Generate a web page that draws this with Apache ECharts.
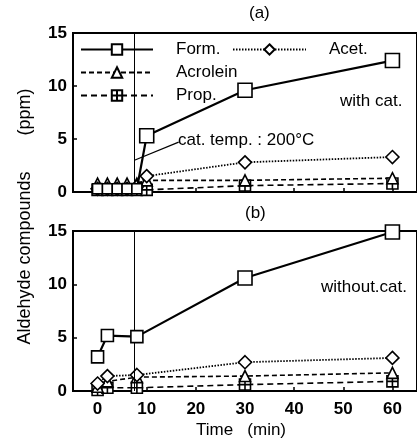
<!DOCTYPE html>
<html>
<head>
<meta charset="utf-8">
<script src="https://cdn.jsdelivr.net/npm/echarts@6/dist/echarts.min.js"></script>
<style>
  html, body { margin: 0; padding: 0; background: #fff; }
  #chart { width: 417px; height: 448px; }
</style>
</head>
<body>
<div id="chart"></div>
<script>
// time ticks (min)
const timeTicks = [0, 10, 20, 30, 40, 50, 60];
const yTicks = [0, 5, 10, 15];
const catOnTime = 7.5;

// (a) with catalyst  [time, ppm]
const formA     = [[0, 0.3], [2, 0.3], [4, 0.3], [6, 0.3], [8, 0.3], [10, 5.3], [30, 9.6], [60, 12.4]];
const acetA     = [[0, 0.3], [2, 0.3], [4, 0.3], [6, 0.3], [8, 0.5], [10, 1.5], [30, 2.8], [60, 3.3]];
const acroleinA = [[0, 0.8], [2, 0.8], [4, 0.8], [6, 0.8], [8, 0.8], [10, 1.1], [30, 1.1], [60, 1.3]];
const propA     = [[0, 0.2], [2, 0.2], [4, 0.2], [6, 0.2], [8, 0.2], [10, 0.2], [30, 0.6], [60, 0.8]];

// (b) without catalyst
const formB     = [[0, 3.2], [2, 5.2], [8, 5.1], [30, 10.6], [60, 14.9]];
const acetB     = [[0, 0.7], [2, 1.4], [8, 1.5], [30, 2.7], [60, 3.1]];
const acroleinB = [[0, 0.4], [2, 0.9], [8, 1.3], [30, 1.4], [60, 1.7]];
const propB     = [[0, 0.1], [2, 0.3], [8, 0.3], [30, 0.6], [60, 0.9]];

// pointer of the "cat. temp." note
const notePointer = [[catOnTime, 3.0], [16.5, 4.7]];

const FONT = "'Liberation Sans', Arial, sans-serif";
const plusRect = "path://M0,0H10V10H0Z M5,0V10 M0,5H10";

const styles = {
  "Form.":    { symbol: "rect",     line: { type: "solid",  width: 2.2 }, size: 14 },
  "Acet.":    { symbol: "diamond",  line: { type: [1.5, 1.5], width: 1.8 }, size: 13 },
  "Acrolein": { symbol: "triangle", line: { type: [5, 3],   width: 1.6 }, size: 11 },
  "Prop.":    { symbol: plusRect,   line: { type: [6, 4],   width: 1.6 }, size: 11 },
};

function makeSeries(name, data, panel) {
  const s = styles[name];
  return {
    name,
    type: "line",
    xAxisIndex: panel,
    yAxisIndex: panel,
    data,
    symbol: s.symbol,
    // early formaldehyde points are drawn smaller
    symbolSize: (v) => (name === "Form." && v[0] < 9 ? (panel === 0 ? 10 : 12) : s.size),
    showAllSymbol: true,
    lineStyle: { color: "#000", type: s.line.type, width: s.line.width },
    itemStyle: { color: "#fff", borderColor: "#000", borderWidth: 1.6 },
    emphasis: { disabled: true },
    z: name === "Form." ? 5 : 3,
  };
}

function vLine(panel) {
  return {
    type: "line",
    xAxisIndex: panel,
    yAxisIndex: panel,
    data: [],
    silent: true,
    markLine: {
      symbol: "none",
      silent: true,
      label: { show: false },
      lineStyle: { color: "#000", type: "solid", width: 1 },
      data: [{ xAxis: catOnTime }],
    },
  };
}

const chart = echarts.init(document.getElementById("chart"));

const xAxisBase = {
  type: "value",
  min: -5,
  max: 65,
  axisLine: { onZero: false, lineStyle: { color: "#000", width: 2 } },
  axisTick: { inside: true, length: 4, customValues: timeTicks, lineStyle: { color: "#000", width: 1.5 } },
  splitLine: { show: false },
};
const yAxisBase = {
  type: "value",
  min: 0,
  max: 15,
  interval: 5,
  axisLine: { show: true, onZero: false, lineStyle: { color: "#000", width: 2 } },
  axisTick: { show: true, inside: true, length: 4, lineStyle: { color: "#000", width: 1.5 } },
  axisLabel: { color: "#000", fontFamily: FONT, fontSize: 17, fontWeight: "bold", margin: 6 },
  splitLine: { show: false },
};

function legendFor(name, left, top, width) {
  return {
    data: [name],
    left, top,
    padding: 0,
    itemWidth: width,
    itemHeight: 13,
    selectedMode: false,
    textStyle: { color: "#000", fontFamily: FONT, fontSize: 17, padding: [0, 0, 0, 18] },
  };
}

chart.setOption({
  animation: false,
  backgroundColor: "#fff",
  grid: [
    { left: 73, right: 0, top: 33, height: 159, show: true, borderColor: "#000", borderWidth: 2 },
    { left: 73, right: 0, top: 231, height: 160, show: true, borderColor: "#000", borderWidth: 2 },
  ],
  xAxis: [
    Object.assign({}, xAxisBase, { gridIndex: 0, axisLabel: { show: false } }),
    Object.assign({}, xAxisBase, {
      gridIndex: 1,
      axisLabel: { customValues: timeTicks, color: "#000", fontFamily: FONT, fontSize: 17, fontWeight: "bold", margin: 10 },
    }),
  ],
  yAxis: [
    Object.assign({}, yAxisBase, { gridIndex: 0 }),
    Object.assign({}, yAxisBase, { gridIndex: 1 }),
  ],
  legend: [
    legendFor("Form.", 80, 41, 72),
    legendFor("Acet.", 232, 41, 73),
    legendFor("Acrolein", 80, 64, 72),
    legendFor("Prop.", 80, 87, 72),
  ],
  series: [
    vLine(0),
    vLine(1),
    {
      type: "line",
      xAxisIndex: 0,
      yAxisIndex: 0,
      data: [],
      silent: true,
      markLine: {
        symbol: "none",
        silent: true,
        label: { show: false },
        lineStyle: { color: "#000", type: "solid", width: 1.2 },
        data: [[{ coord: notePointer[0] }, { coord: notePointer[1] }]],
      },
    },
    makeSeries("Prop.", propA, 0),
    makeSeries("Acrolein", acroleinA, 0),
    makeSeries("Acet.", acetA, 0),
    makeSeries("Form.", formA, 0),
    makeSeries("Prop.", propB, 1),
    makeSeries("Acrolein", acroleinB, 1),
    makeSeries("Acet.", acetB, 1),
    makeSeries("Form.", formB, 1),
  ],
  graphic: [
    { type: "text", left: 249, top: 5, style: { text: "(a)", font: "17px " + FONT, fill: "#000" } },
    { type: "text", left: 245, top: 205, style: { text: "(b)", font: "17px " + FONT, fill: "#000" } },
    { type: "text", left: 340, top: 93, style: { text: "with cat.", font: "17px " + FONT, fill: "#000" } },
    { type: "text", left: 178, top: 132, style: { text: "cat. temp. : 200°C", font: "17px " + FONT, fill: "#000" } },
    { type: "text", left: 321, top: 279, style: { text: "without.cat.", font: "17px " + FONT, fill: "#000" } },
    { type: "text", left: 196, top: 422, style: { text: "Time   (min)", font: "17px " + FONT, fill: "#000" } },
    {
      type: "text",
      x: 25, y: 258,
      rotation: Math.PI / 2,
      style: { text: "Aldehyde compounds", font: "18px " + FONT, fill: "#000", align: "center", verticalAlign: "middle" },
    },
    {
      type: "text",
      x: 25, y: 112,
      rotation: Math.PI / 2,
      style: { text: "(ppm)", font: "18px " + FONT, fill: "#000", align: "center", verticalAlign: "middle" },
    },
  ],
});
</script>
</body>
</html>
